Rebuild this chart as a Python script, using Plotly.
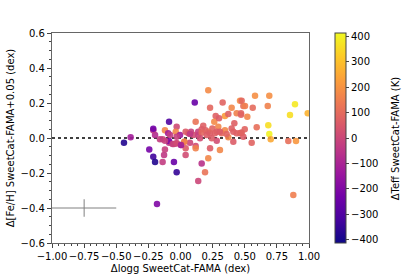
import plotly.graph_objects as go

# Δlogg, Δ[Fe/H]+0.05, ΔTeff
dlogg = [-0.440, -0.388, -0.243, -0.212, -0.198, -0.183, -0.139, -0.128, -0.121, -0.051,
         -0.030, 0.138, 0.191, 0.165, 0.216, 0.230, 0.307, 0.282, 0.411, 0.118,
         0.118, 0.040, 0.040, 0.030, 0.004, -0.030, 0.074, -0.089, -0.089, -0.062,
         -0.051, -0.121, -0.139, -0.198, -0.212, -0.212, -0.089, -0.121, -0.030, -0.037,
         -0.096, 0.111, 0.216, 0.230, 0.328, 0.398, 0.463, 0.489, 0.274, 0.346,
         0.372, 0.437, 0.471, 0.263, 0.300, 0.118, 0.177, 0.419, 0.398, 0.294,
         0.082, 0.138, 0.061, 0.216, -0.004, 0.471, 0.372, 0.165, 0.195, 0.230,
         0.248, 0.282, 0.320, 0.346, 0.437, 0.500, 0.101, 0.040, 0.074, 0.138,
         0.165, 0.204, 0.268, 0.307, 0.359, 0.411, 0.463, 0.489, 0.152, 0.243,
         0.030, -0.030, 0.004, 0.580, 0.691, 0.476, 0.502, 0.562, 0.679, 0.891,
         0.852, 0.990, 0.471, 0.520, 0.593, 0.683, 0.691, 0.702, 0.554, 0.839,
         0.899, 0.878, 0.476, -0.030, -0.081, -0.160]
dfeh = [-0.027, 0.004, -0.065, -0.107, -0.137, -0.377, -0.137, -0.097, -0.065, -0.137,
        -0.196, -0.246, -0.196, -0.145, -0.116, -0.059, -0.069, -0.015, -0.021, -0.046,
        -0.059, -0.059, -0.097, -0.021, -0.040, -0.030, -0.027, -0.027, -0.017, -0.034,
        -0.034, -0.015, -0.007, 0.017, 0.044, 0.053, 0.093, 0.044, 0.065, 0.036,
        0.027, 0.203, 0.273, 0.173, 0.203, 0.173, 0.213, 0.183, 0.126, 0.126,
        0.137, 0.141, 0.133, 0.093, 0.113, 0.093, 0.070, 0.084, 0.055, 0.065,
        0.036, 0.036, 0.027, 0.036, 0.017, 0.030, 0.004, 0.050, 0.044, 0.027,
        0.055, 0.036, 0.027, 0.044, 0.027, 0.050, 0.017, 0.036, 0.023, 0.017,
        0.030, 0.017, 0.027, 0.036, 0.023, 0.036, 0.027, 0.007, -0.002, -0.002,
        -0.021, -0.030, -0.040, 0.242, 0.242, 0.213, 0.183, 0.173, 0.183, 0.193,
        0.131, 0.141, 0.141, 0.122, 0.061, 0.073, 0.023, -0.007, -0.027, -0.017,
        -0.017, -0.326, 0.030, 0.007, 0.017, -0.007]
dteff = [-380, -120, -220, -330, -380, -200, -30, -40, -20, -250,
         -350, 0, 120, -60, 170, 60, 170, 20, 60, 20,
         160, 60, 20, 150, -120, 0, 0, -40, -200, -20,
         -10, -20, -10, -80, -40, -230, -300, 170, 10, 170,
         -120, -250, 180, 90, 80, 170, 190, 110, 70, 220,
         70, 160, 80, 180, 60, 120, 70, 70, 70, 170,
         -20, -20, 60, 190, -120, 60, 170, 60, 70, 60,
         80, 60, 100, 170, 70, 80, 20, 60, -40, -20,
         90, 60, 70, 60, 80, 70, 80, 60, 20, 60,
         160, 20, -100, 190, 190, 90, 150, 100, 160, 380,
         360, 270, 80, 170, 110, 360, 400, 250, 80, 110,
         210, 150, 80, -20, -30, -30]

# representative error bar
err_x, err_y = [-0.75], [-0.4]
err_dx, err_dy = 0.25, 0.05

x_ticks = [-1.0, -0.75, -0.5, -0.25, 0.0, 0.25, 0.5, 0.75, 1.0]
y_ticks = [-0.6, -0.4, -0.2, 0.0, 0.2, 0.4, 0.6]
cb_ticks = [-400, -300, -200, -100, 0, 100, 200, 300, 400]

fig = go.Figure()

fig.add_trace(go.Scatter(
    x=[-1, 1], y=[0, 0], mode="lines",
    line=dict(color="black", width=1.5, dash="dot"),
    hoverinfo="skip", showlegend=False))

fig.add_trace(go.Scatter(
    x=err_x, y=err_y, mode="markers",
    marker=dict(size=0.1, color="grey", opacity=0),
    error_x=dict(type="constant", value=err_dx, color="grey", thickness=1, width=0),
    error_y=dict(type="constant", value=err_dy, color="grey", thickness=1, width=0),
    showlegend=False))

fig.add_trace(go.Scatter(
    x=dlogg, y=dfeh, mode="markers",
    marker=dict(size=6.5, color=dteff, colorscale="Plasma", cmin=-412, cmax=412,
                opacity=0.9, line=dict(width=0),
                colorbar=dict(
                    x=1.062, xanchor="left", xref="paper",
                    y=0.5, yanchor="middle", len=1.0, lenmode="fraction",
                    thickness=11, ypad=0, outlinecolor="#444", outlinewidth=1,
                    tickvals=cb_ticks, ticks="outside", ticklen=3,
                    tickfont=dict(size=10, color="black"))),
    showlegend=False))

fig.add_annotation(text="ΔTeff SweetCat-FAMA (K)", xref="paper", yref="paper",
                   x=1.336, y=0.5, xanchor="center", yanchor="middle",
                   textangle=-90, showarrow=False, font=dict(size=10, color="black"))

axis_common = dict(showline=True, mirror=True, linecolor="#666", linewidth=1.3,
                   ticks="outside", ticklen=4, tickcolor="#444", showgrid=False,
                   zeroline=False, tickfont=dict(size=10, color="black"),
                   automargin=False, tickangle=0,
                   minor=dict(ticks="outside", ticklen=2, tickcolor="#444"))

fig.update_xaxes(range=[-1, 1], tickvals=x_ticks, tickformat=".2f",
                 minor_dtick=0.05,
                 title=dict(text="Δlogg SweetCat-FAMA (dex)", font=dict(size=10, color="black"),
                            standoff=3),
                 **axis_common)
fig.update_yaxes(range=[-0.6, 0.6], tickvals=y_ticks, tickformat=".1f",
                 minor_dtick=0.05,
                 title=dict(text="Δ[Fe/H] SweetCat-FAMA+0.05 (dex)",
                            font=dict(size=10, color="black"), standoff=4),
                 **axis_common)

fig.update_layout(width=415, height=277,
                  margin=dict(l=52, r=106, t=33, b=34, autoexpand=False),
                  paper_bgcolor="white", plot_bgcolor="white",
                  font=dict(family="DejaVu Sans", size=10, color="black"))

fig.write_html("out.html", config={"displayModeBar": False},
               post_script="document.body.style.margin='0';document.body.style.overflow='hidden';")
